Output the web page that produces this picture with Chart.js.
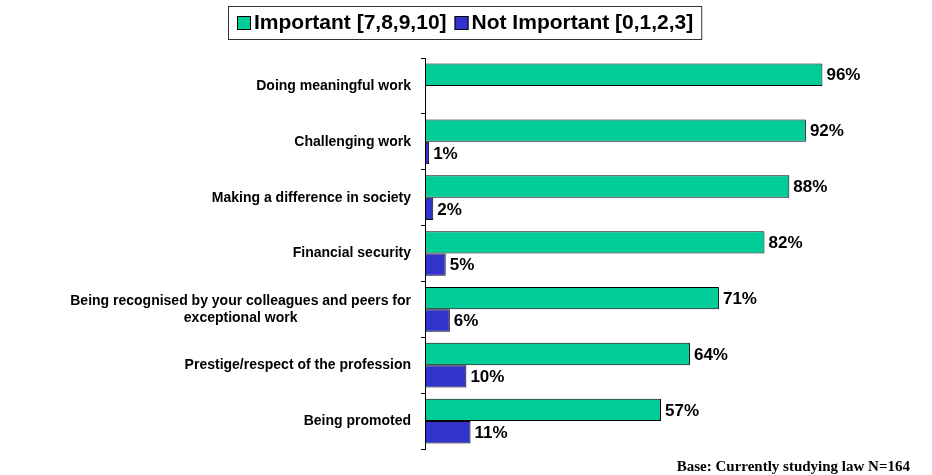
<!DOCTYPE html>
<html>
<head>
<meta charset="utf-8">
<script src="https://cdn.jsdelivr.net/npm/chart.js@4/dist/chart.umd.min.js"></script>
<style>
  html, body { margin: 0; padding: 0; background: #fff; }
  canvas { display: block; }
</style>
</head>
<body>
<canvas id="c" width="932" height="475"></canvas>
<script>
// ── Data ──────────────────────────────────────────────
var categories = [
    ['Doing meaningful work'],
    ['Challenging work'],
    ['Making a difference in society'],
    ['Financial security'],
    ['Being recognised by your colleagues and peers for', 'exceptional work'],
    ['Prestige/respect of the profession'],
    ['Being promoted']
];
var important    = [96, 92, 88, 82, 71, 64, 57];
var notImportant = [null, 1, 2, 5, 6, 10, 11];
var seriesNames  = ['Important [7,8,9,10]', 'Not Important [0,1,2,3]'];
var baseNote     = 'Base: Currently studying law N=164';

var SANS = "'Liberation Sans', Arial, sans-serif";
var SERIF = "'Liberation Serif', 'Times New Roman', serif";

// ── Custom drawing: value labels, category labels, legend, note ──
var decor = {
    id: 'decor',
    afterDatasetsDraw: function (chart) {
        var ctx = chart.ctx;
        ctx.save();
        ctx.font = 'bold 17px ' + SANS;
        ctx.fillStyle = '#000';
        ctx.textAlign = 'left';
        ctx.textBaseline = 'middle';
        chart.data.datasets.forEach(function (ds, di) {
            var meta = chart.getDatasetMeta(di);
            meta.data.forEach(function (bar, i) {
                var v = ds.data[i];
                if (v === null || v === undefined) return;
                ctx.fillText(v + '%', bar.x + 4, bar.y + 1);
            });
        });
        ctx.restore();
    },
    afterDraw: function (chart) {
        var ctx = chart.ctx;
        var y = chart.scales.y;
        ctx.save();

        // category labels (multi-line ones centred on each other)
        ctx.font = 'bold 14px ' + SANS;
        ctx.fillStyle = '#000';
        ctx.textAlign = 'center';
        ctx.textBaseline = 'middle';
        var rightX = chart.chartArea.left - 14;
        chart.data.labels.forEach(function (lines, i) {
            var py = y.getPixelForValue(i);
            var w = 0;
            lines.forEach(function (l) { w = Math.max(w, ctx.measureText(l).width); });
            var cx = rightX - w / 2;
            var lh = 17;
            var y0 = py - (lines.length - 1) * lh / 2;
            lines.forEach(function (l, k) { ctx.fillText(l, cx, y0 + k * lh); });
        });

        // legend
        ctx.font = 'bold 21px ' + SANS;
        ctx.textAlign = 'left';
        var lx = 228, ly = 6, lh2 = 33;
        var x = lx + 9;
        chart.data.datasets.forEach(function (ds) {
            ctx.fillStyle = ds.backgroundColor;
            ctx.fillRect(x, ly + 10, 14, 14);
            ctx.strokeStyle = '#000';
            ctx.lineWidth = 1;
            ctx.strokeRect(x + 0.5, ly + 10.5, 13, 13);
            ctx.fillStyle = '#000';
            ctx.fillText(ds.label, x + 17, ly + lh2 / 2 + 1);
            x += 17 + ctx.measureText(ds.label).width + 8;
        });
        ctx.strokeStyle = '#333';
        ctx.lineWidth = 1;
        ctx.strokeRect(lx + 0.5, ly + 0.5, x - lx, lh2);

        // base note
        ctx.font = 'bold 15px ' + SERIF;
        ctx.textAlign = 'right';
        ctx.fillStyle = '#000';
        ctx.fillText(baseNote, 910, 467);
        ctx.restore();
    }
};

new Chart(document.getElementById('c'), {
    type: 'bar',
    data: {
        labels: categories,
        datasets: [{
            label: seriesNames[0],
            data: important,
            backgroundColor: '#00CC99',
            borderColor: '#000',
            borderWidth: 1,
            borderSkipped: false,
            barPercentage: 1,
            categoryPercentage: 0.8
        }, {
            label: seriesNames[1],
            data: notImportant,
            backgroundColor: '#3333CC',
            borderColor: '#000',
            borderWidth: 1,
            borderSkipped: false,
            barPercentage: 1,
            categoryPercentage: 0.8
        }]
    },
    options: {
        indexAxis: 'y',
        responsive: false,
        animation: false,
        layout: { padding: { top: 58, right: 93, bottom: 26, left: 0 } },
        plugins: {
            legend: { display: false },
            tooltip: { enabled: false }
        },
        scales: {
            x: { display: false, min: 0, max: 100 },
            y: {
                afterFit: function (s) { s.width = 425; },
                ticks: { display: false },
                border: { display: true, color: '#000', width: 1 },
                grid: { drawOnChartArea: false, tickLength: 4, color: '#000' }
            }
        }
    },
    plugins: [decor]
});
</script>
</body>
</html>
